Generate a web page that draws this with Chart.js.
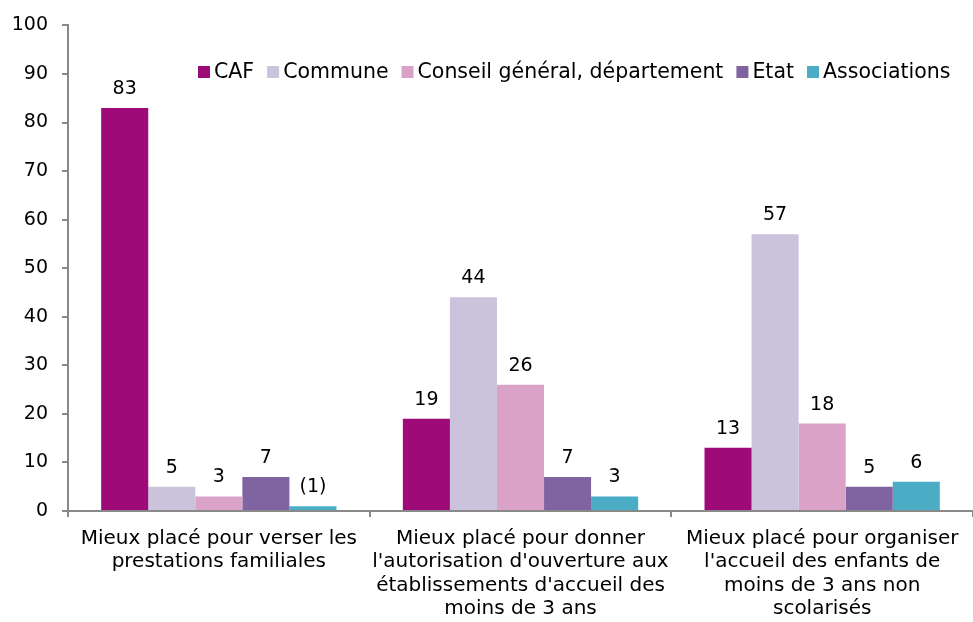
<!DOCTYPE html>
<html>
<head>
<meta charset="utf-8">
<script src="https://cdn.jsdelivr.net/npm/chart.js@4"></script>
<style>
  html, body { margin: 0; padding: 0; background: #fff; }
  #wrap { width: 973px; height: 622px; }
</style>
</head>
<body>
<div id="wrap"><canvas id="mychart"></canvas></div>
<script>
// categories and series
const categories = [
  ["Mieux placé pour verser les", "prestations familiales"],
  ["Mieux placé pour donner", "l'autorisation d'ouverture aux", "établissements d'accueil des", "moins de 3 ans"],
  ["Mieux placé pour organiser", "l'accueil des enfants de", "moins de 3 ans non", "scolarisés"]
];
const caf = [83, 19, 13];
const commune = [5, 44, 57];
const conseil = [3, 26, 18];
const etat = [7, 7, 5];
const associations = [1, 3, 6];
// the first associations figure is shown in brackets
const associationsText = ["(1)", "3", "6"];
const yTicks = [0, 10, 20, 30, 40, 50, 60, 70, 80, 90, 100];

const FONT = "'DejaVu Sans', Verdana, sans-serif";
const AXIS = "#898989";

// value labels above each bar
const valueLabels = {
  id: "valueLabels",
  afterDatasetsDraw(chart) {
    const ctx = chart.ctx;
    ctx.save();
    ctx.font = "19px " + FONT;
    ctx.fillStyle = "#000";
    ctx.textAlign = "center";
    ctx.textBaseline = "alphabetic";
    chart.data.datasets.forEach((ds, i) => {
      chart.getDatasetMeta(i).data.forEach((bar, j) => {
        const txt = ds.texts ? ds.texts[j] : String(ds.data[j]);
        ctx.fillText(txt, bar.x, bar.y - 14);
      });
    });
    ctx.restore();
  }
};

// legend drawn inside the plot, one row
const innerLegend = {
  id: "innerLegend",
  afterDraw(chart) {
    const ctx = chart.ctx;
    ctx.save();
    ctx.font = "20.5px " + FONT;
    ctx.textBaseline = "middle";
    ctx.textAlign = "left";
    let x = 198;
    const y = 72;
    chart.data.datasets.forEach((ds) => {
      ctx.fillStyle = ds.backgroundColor;
      ctx.fillRect(x, y - 6, 12, 12);
      x += 16;
      ctx.fillStyle = "#000";
      ctx.fillText(ds.label, x, y + 1);
      x += ctx.measureText(ds.label).width + 13;
    });
    ctx.restore();
  }
};

var ctx = document.getElementById("mychart").getContext("2d");

var myChart = new Chart(ctx, {
  type: "bar",
  data: {
    labels: categories,
    datasets: [
      { label: "CAF", data: caf, backgroundColor: "#9e0a78" },
      { label: "Commune", data: commune, backgroundColor: "#cbc2db" },
      { label: "Conseil général, département", data: conseil, backgroundColor: "#dba2c8" },
      { label: "Etat", data: etat, backgroundColor: "#8064a1" },
      { label: "Associations", data: associations, backgroundColor: "#4bacc6", texts: associationsText }
    ]
  },
  options: {
    responsive: true,
    maintainAspectRatio: false,
    animation: false,
    layout: { padding: { top: 23, right: 0, left: 0, bottom: 0 } },
    datasets: {
      bar: { barPercentage: 1, categoryPercentage: 0.78, borderWidth: 0 }
    },
    plugins: {
      legend: { display: false },
      tooltip: { enabled: false }
    },
    scales: {
      x: {
        offset: true,
        grid: {
          offset: true,
          drawOnChartArea: false,
          color: AXIS,
          lineWidth: 2,
          tickLength: 6
        },
        border: { color: AXIS, width: 2 },
        ticks: {
          color: "#000",
          font: { family: FONT, size: 20, lineHeight: 1.17 },
          padding: 10,
          maxRotation: 0,
          autoSkip: false
        },
        afterFit(scale) { scale.height = 111; }
      },
      y: {
        min: 0,
        max: 100,
        afterBuildTicks(scale) { scale.ticks = yTicks.map((v) => ({ value: v })); },
        grid: {
          drawOnChartArea: false,
          color: AXIS,
          lineWidth: 2,
          tickLength: 6
        },
        border: { color: AXIS, width: 2 },
        ticks: {
          color: "#000",
          font: { family: FONT, size: 19 },
          padding: 14
        },
        afterFit(scale) { scale.width = 68; }
      }
    }
  },
  plugins: [valueLabels, innerLegend]
});
</script>
</body>
</html>
